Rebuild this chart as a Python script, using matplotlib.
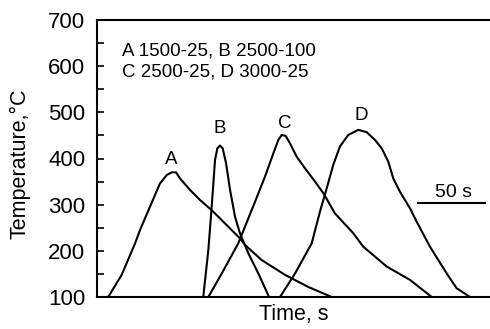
import matplotlib
matplotlib.use("Agg")
from matplotlib import pyplot as plt
from matplotlib.ticker import MultipleLocator

plt.rcParams['font.family'] = ['Liberation Sans', 'DejaVu Sans']

# temperature traces (time in s, temperature in C)
time_a = [8.4, 18.4, 28.4, 32.1, 39.6, 47.0, 52.0, 55.7, 59.0, 61.9, 69.4, 76.9,
          85.6, 94.3, 106.7, 110.4, 122.9, 140.3, 157.5, 175.1]
temp_a = [100, 148, 216, 245, 296, 346, 364, 370, 370, 357, 332, 310,
          288, 263, 227, 213, 180, 148, 122, 100]

time_b = [79.3, 83.1, 85.6, 88.1, 89.8, 91.8, 93.8, 96.3, 99.3, 103.0, 106.7,
          112.9, 120.4, 128.4]
temp_b = [100, 202, 296, 397, 422, 428, 422, 390, 332, 274, 238,
          195, 151, 100]

time_c = [83.1, 93.1, 105.4, 117.9, 125.4, 131.6, 135.3, 137.8, 140.8, 144.0,
          149.0, 155.2, 162.7, 168.9, 177.6, 191.3, 198.7, 216.2, 233.6, 249.8]
temp_c = [100, 151, 216, 306, 361, 411, 440, 451, 449, 433,
          404, 379, 350, 325, 281, 238, 209, 166, 137, 100]

time_d = [136.6, 147.8, 160.2, 166.4, 171.4, 176.3, 181.3, 187.5, 195.0, 201.3,
          207.5, 212.5, 217.4, 221.1, 226.1, 233.6, 238.6, 248.5, 261.0, 268.4, 278.4]
temp_d = [100, 151, 216, 285, 335, 386, 426, 451, 462, 457,
          440, 422, 393, 357, 328, 292, 263, 209, 151, 119, 100]

curves = [(time_a, temp_a), (time_b, temp_b), (time_c, temp_c), (time_d, temp_d)]
curve_names = ["A", "B", "C", "D"]
label_pos = [(55.7, 388), (91.3, 455), (140.3, 465), (197.5, 483)]


def make_plot(file_name="out.png"):
    fig = plt.figure(figsize=(4.9, 3.29), dpi=100)
    ax = fig.add_axes([97 / 490, 32 / 329, 393 / 490, 277 / 329])

    for (t, temp), name, (lx, ly) in zip(curves, curve_names, label_pos):
        ax.plot(t, temp, color="black", lw=1.5)
        ax.text(lx, ly, name, ha="center", va="baseline", fontsize=13.5)

    ax.text(18.4, 624, "A 1500-25, B 2500-100", ha="left", va="baseline", fontsize=13.5)
    ax.text(18.4, 577, "C 2500-25, D 3000-25", ha="left", va="baseline", fontsize=13.5)

    # 50 s scale bar
    ax.plot([239.6, 289.6], [303, 303], color="black", lw=1.5)
    ax.text(265.9, 317, "50 s", ha="center", va="baseline", fontsize=14)

    ax.set_xlim(0, 293.3)
    ax.set_ylim(100, 700)
    ax.yaxis.set_major_locator(MultipleLocator(100))
    ax.yaxis.set_minor_locator(MultipleLocator(50))
    ax.tick_params(axis="y", which="both", direction="in", labelsize=16,
                   width=1.2, length=5, pad=8.5)
    ax.set_xticks([])
    ax.spines["right"].set_visible(False)
    for s in ["left", "bottom", "top"]:
        ax.spines[s].set_linewidth(1.5)

    ax.set_xlabel("Time, s", fontsize=15.5, labelpad=5)
    ax.set_ylabel("Temperature,°C", fontsize=15.5)
    ax.yaxis.set_label_coords(-0.17, 0.48)

    fig.savefig(file_name, dpi=100)


if __name__ == "__main__":
    make_plot("out.png")
